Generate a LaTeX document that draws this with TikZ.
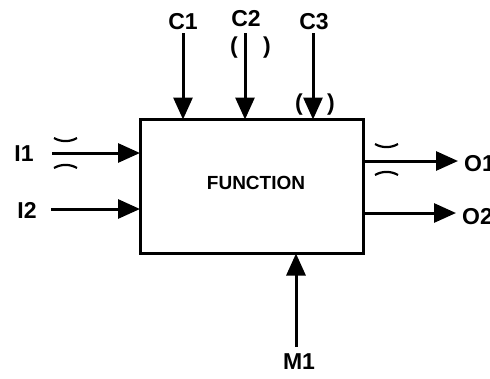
\documentclass[tikz,border=0pt]{standalone}
\usepackage{fontspec}
\setmainfont{Liberation Sans}
\usetikzlibrary{arrows.meta}
\begin{document}
\begin{tikzpicture}[x=1pt,y=-1pt,
  flow/.style={line width=3pt,-{Triangle[length=22pt,width=19pt]}},
  lbl/.style={font=\bfseries\fontsize{23}{25}\selectfont,inner sep=0pt},
  paren/.style={line width=2.2pt}]
\useasboundingbox[fill=white] (0,0) rectangle (490,378);
\node[draw,line width=3pt,minimum width=223pt,minimum height=134pt,inner sep=0pt] (box) at (251.5,186.5) {};
\node[font=\bfseries\fontsize{19}{21}\selectfont,inner sep=0pt] (fn) at (256,183) {FUNCTION};
% controls
\node[lbl] (c1) at (183,22) {C1};
\node[lbl] (c2) at (246,19) {C2};
\node[lbl] (c3) at (314,22) {C3};
\coordinate (c1t) at (183,119.5);
\coordinate (c2t) at (245,119.5);
\coordinate (c3t) at (313,119.5);
\draw[flow] (183,33) -- (c1t);
\draw[flow] (245,33) -- (c2t);
\draw[flow] (313,33) -- (c3t);
\node[lbl] (p2l) at (234,48) {(};
\node[lbl] (p2r) at (267,48) {)};
\node[lbl] (p3l) at (299,105) {(};
\node[lbl] (p3r) at (331,105) {)};
% inputs
\node[lbl] (i1) at (24,154) {I1};
\node[lbl] (i2) at (27,210) {I2};
\coordinate (i1t) at (140,153);
\coordinate (i2t) at (140,209);
\draw[flow] (52,153) -- (i1t);
\draw[flow] (51,209) -- (i2t);
\draw[paren] (54,138) arc[start angle=120,end angle=60,radius=23];
\draw[paren] (54,168) arc[start angle=-120,end angle=-60,radius=23];
% outputs
\coordinate (o1s) at (363,161);
\coordinate (o2s) at (363,213);
\coordinate (o1e) at (458,161);
\coordinate (o2e) at (456,213);
\node[lbl,anchor=west] (o1) at (464,164) {O1};
\node[lbl,anchor=west] (o2) at (462,217) {O2};
\draw[flow] (o1s) -- (o1e);
\draw[flow] (o2s) -- (o2e);
\draw[paren] (375,144) arc[start angle=120,end angle=60,radius=23];
\draw[paren] (375,175) arc[start angle=-120,end angle=-60,radius=23];
% mechanism
\node[lbl] (m1) at (299,362) {M1};
\coordinate (m1t) at (296,253.5);
\draw[flow] (296,347) -- (m1t);
\end{tikzpicture}
\end{document}
